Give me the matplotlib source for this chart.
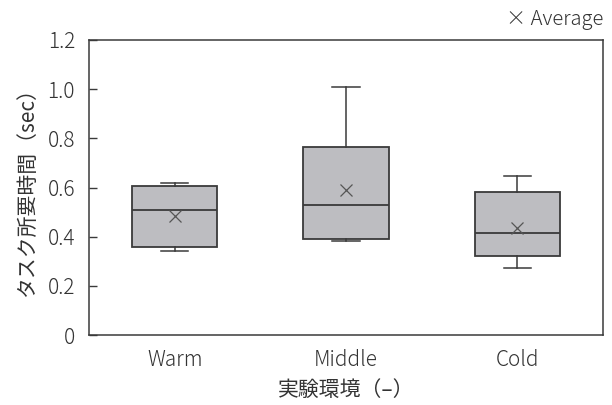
import matplotlib
matplotlib.use("Agg")
import matplotlib.pyplot as plt

plt.rcParams['font.family'] = ['Noto Sans CJK JP', 'DejaVu Sans']
plt.rcParams['font.weight'] = 'light'

categories = ["Warm", "Middle", "Cold"]
whisker_low = [0.343, 0.382, 0.274]
q1 = [0.359, 0.391, 0.322]
median = [0.509, 0.528, 0.413]
q3 = [0.605, 0.765, 0.581]
whisker_high = [0.617, 1.009, 0.648]
mean = [0.484, 0.589, 0.435]

stats = []
for i, name in enumerate(categories):
    stats.append(dict(label=name, whislo=whisker_low[i], q1=q1[i], med=median[i],
                      q3=q3[i], whishi=whisker_high[i], mean=mean[i], fliers=[]))

text_color = "#333333"
edge = "#3a3a3a"

fig = plt.figure(figsize=(6.12, 4.05), dpi=100)
ax = fig.add_axes([89 / 612, 1 - 335 / 405, 514 / 612, 295 / 405])

ax.bxp(stats, positions=[1, 2, 3], widths=0.5, patch_artist=True,
       showmeans=True, meanline=False,
       boxprops=dict(facecolor="#bdbdc1", edgecolor=edge, linewidth=1.3),
       medianprops=dict(color=edge, linewidth=1.3),
       whiskerprops=dict(color=edge, linewidth=1.1),
       capprops=dict(color=edge, linewidth=1.1),
       capwidths=0.16,
       meanprops=dict(marker="x", markeredgecolor="#555555", markersize=8,
                      markeredgewidth=0.9))

ax.set_xlim(0.5, 3.5)
ax.set_ylim(0, 1.2)
ax.set_yticks([0, 0.2, 0.4, 0.6, 0.8, 1.0, 1.2])
ax.set_yticklabels(["0", "0.2", "0.4", "0.6", "0.8", "1.0", "1.2"])
ax.tick_params(axis="y", direction="in", length=6, width=1, color=edge,
               labelsize=15, labelcolor=text_color, pad=10)
ax.tick_params(axis="x", length=0, labelsize=15, labelcolor=text_color, pad=10)
for s in ax.spines.values():
    s.set_color(edge)
    s.set_linewidth(1.1)

ax.set_ylabel("タスク所要時間（sec）", fontsize=15, color=text_color, labelpad=7)
ax.set_xlabel("実験環境（–）", fontsize=15, color=text_color, labelpad=6)

fig.text(603 / 612, 1 - 19 / 405, "× Average", ha="right", va="center",
         fontsize=14.5, color=text_color)

fig.savefig("out.png", dpi=100)
